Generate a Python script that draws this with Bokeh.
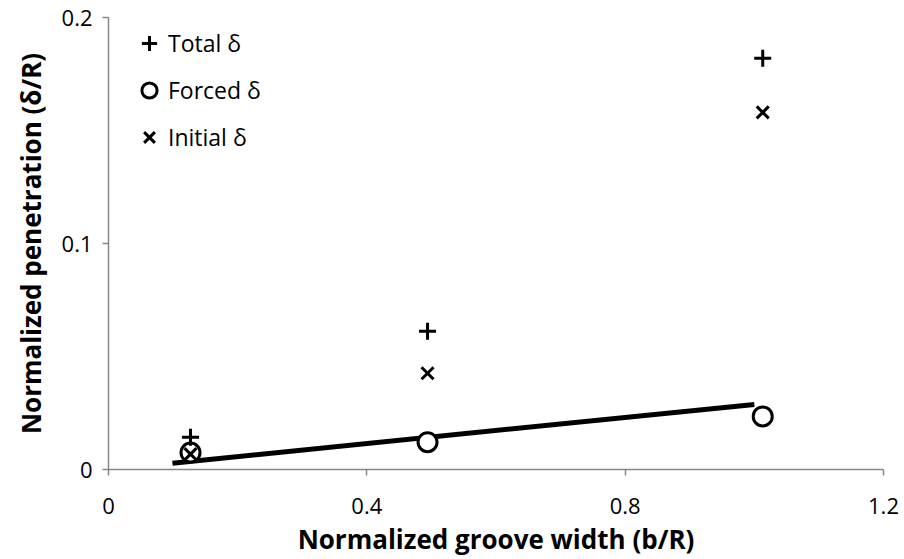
from bokeh.plotting import figure
from bokeh.models import Range1d, FixedTicker, Legend, LegendItem
from bokeh.embed import file_html
from bokeh.resources import INLINE

# Data
groove_width = [0.127, 0.494, 1.013]
total_delta = [0.0143, 0.0612, 0.182]
forced_delta = [0.0075, 0.0121, 0.0235]
initial_delta = [0.0068, 0.0426, 0.158]
fit_x = [0.099, 1.0]
fit_y = [0.0028, 0.0288]

x_ticks = [0, 0.4, 0.8, 1.2]
y_ticks = [0, 0.1, 0.2]

FONT = "Open Sans"
AXIS_GRAY = "#868686"

p = figure(width=904, height=559, output_backend="svg", toolbar_location=None,
           x_range=Range1d(0, 1.2), y_range=Range1d(0, 0.2),
           min_border_left=108, min_border_right=21, min_border_top=17, min_border_bottom=90)
p.outline_line_color = None
p.xgrid.visible = False
p.ygrid.visible = False
p.background_fill_color = "white"
p.border_fill_color = "white"

fit = p.line(fit_x, fit_y, line_color="black", line_width=5)
r_forced = p.scatter(groove_width, forced_delta, marker="circle", size=19,
                     line_color="black", line_width=3, fill_color="white")
r_initial = p.scatter(groove_width, initial_delta, marker="x", size=17,
                      line_color="black", line_width=3)
r_total = p.scatter(groove_width, total_delta, marker="cross", size=17,
                    line_color="black", line_width=3)

for ax, ticks in ((p.xaxis, x_ticks), (p.yaxis, y_ticks)):
    ax.ticker = FixedTicker(ticks=ticks)
    ax.minor_tick_line_color = None
    ax.major_tick_in = 0
    ax.major_tick_out = 6
    ax.axis_line_color = AXIS_GRAY
    ax.major_tick_line_color = AXIS_GRAY
    ax.axis_line_width = 1.5
    ax.major_tick_line_width = 1.5
    ax.major_label_text_font = FONT
    ax.major_label_text_font_size = "22px"
    ax.major_label_text_color = "black"
    ax.axis_label_text_font = FONT
    ax.axis_label_text_font_style = "bold"
    ax.axis_label_text_font_size = "26px"
    ax.axis_label_text_color = "black"

p.xaxis.major_label_overrides = {0: "0", 0.4: "0.4", 0.8: "0.8", 1.2: "1.2"}
p.yaxis.major_label_overrides = {0: "0", 0.1: "0.1", 0.2: "0.2"}
p.xaxis.axis_label = "Normalized groove width (b/R)"
p.yaxis.axis_label = "Normalized penetration (δ/R)"
p.xaxis.major_label_standoff = 22
p.xaxis.axis_label_standoff = 4
p.yaxis.major_label_standoff = 10
p.yaxis.axis_label_standoff = 10

legend = Legend(items=[LegendItem(label="Total δ", renderers=[r_total]),
                       LegendItem(label="Forced δ", renderers=[r_forced]),
                       LegendItem(label="Initial δ", renderers=[r_initial])],
                location=(22, 311))
legend.border_line_color = None
legend.background_fill_alpha = 0
legend.label_text_font = FONT
legend.label_text_font_size = "23px"
legend.label_text_color = "black"
legend.glyph_width = 38
legend.glyph_height = 42
legend.label_height = 20
legend.label_standoff = 0
legend.spacing = 5
legend.padding = 5
legend.margin = 0
p.add_layout(legend)

open("out.html", "w").write(file_html(p, INLINE))
